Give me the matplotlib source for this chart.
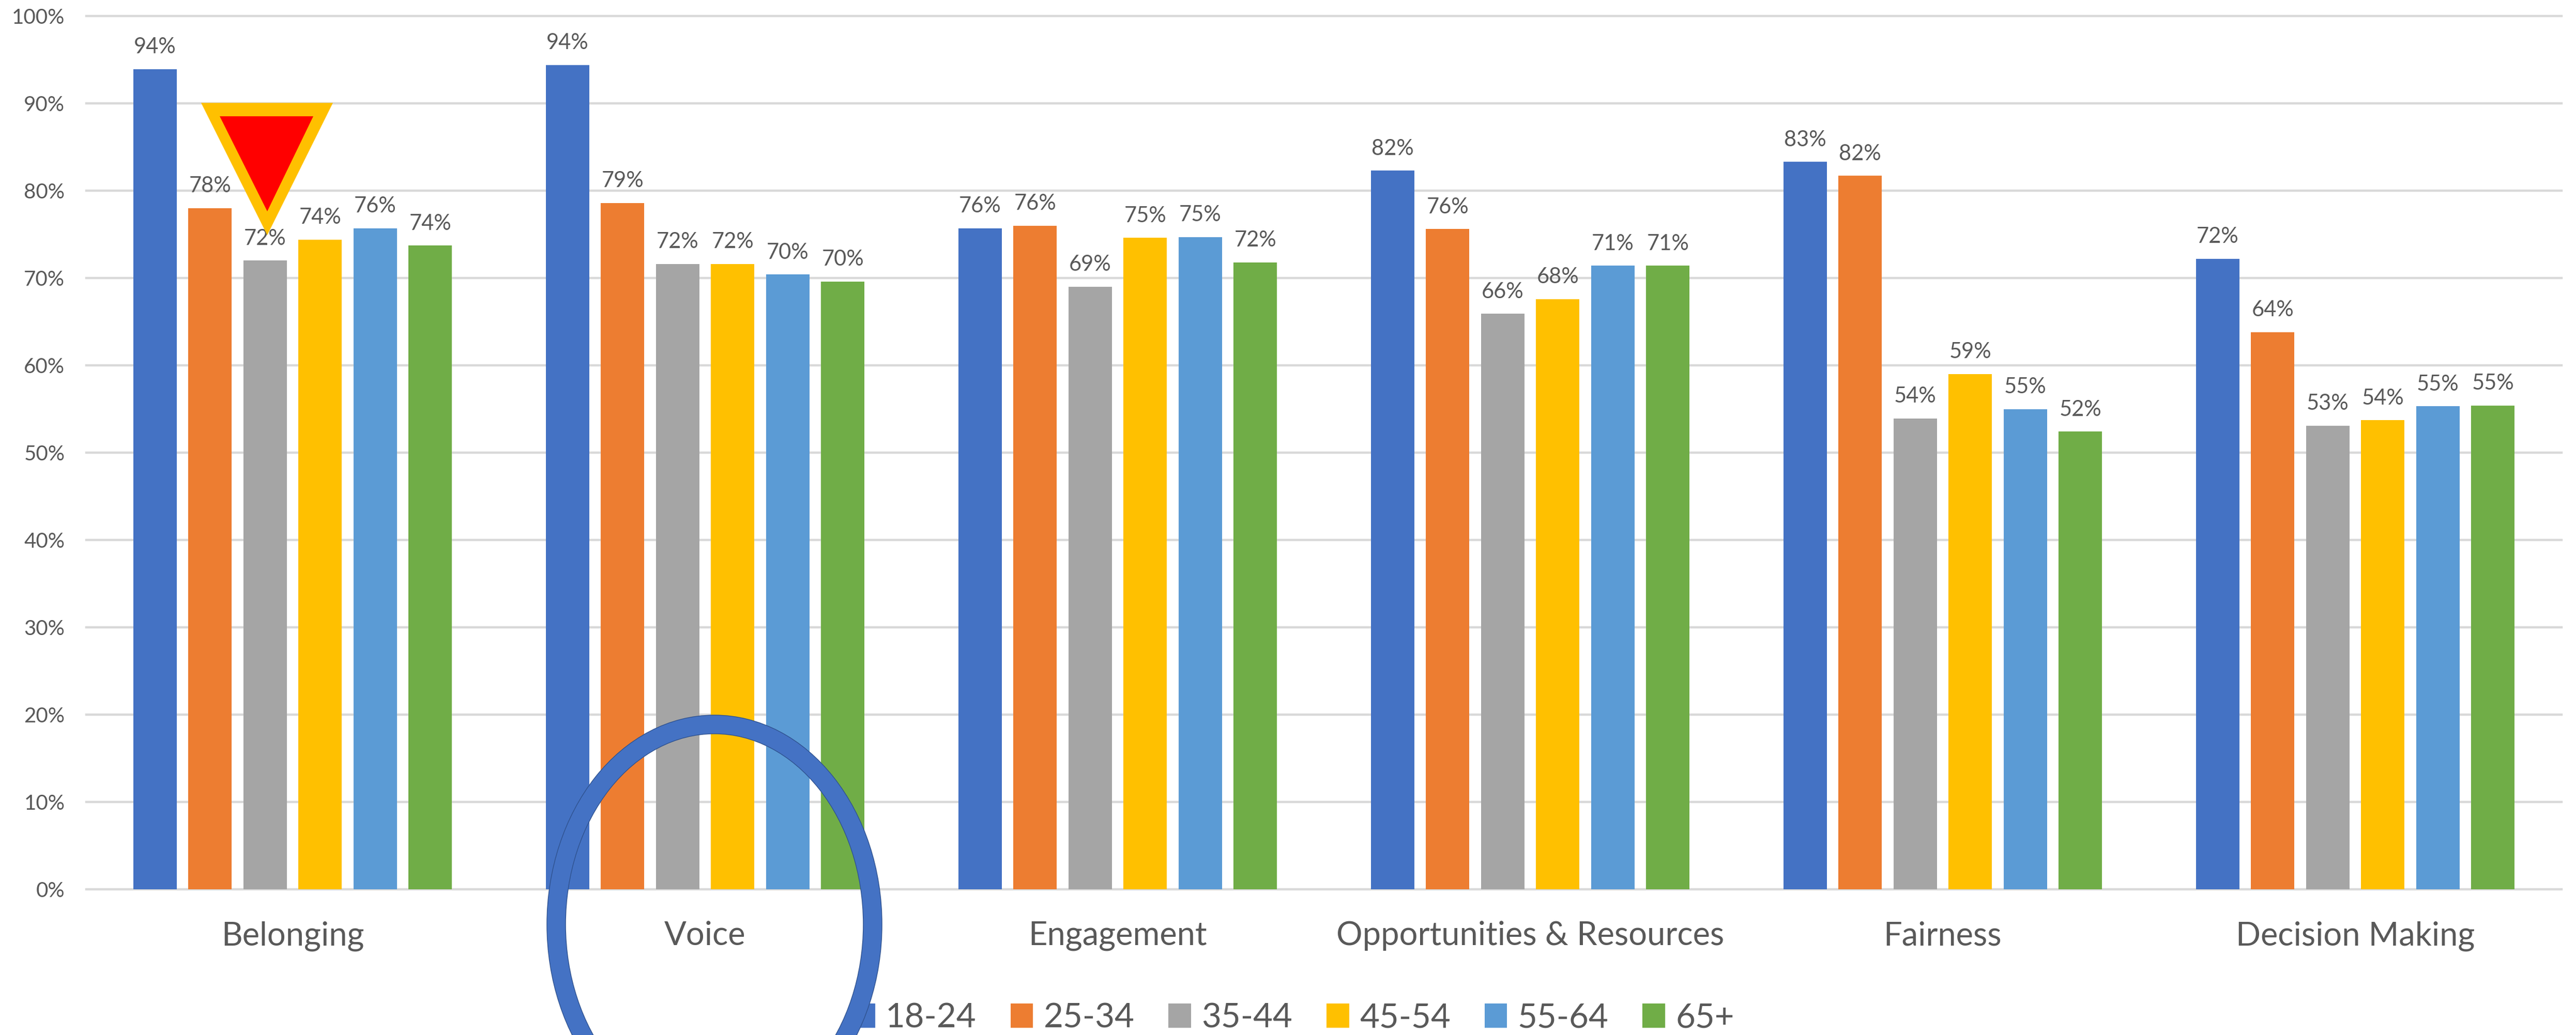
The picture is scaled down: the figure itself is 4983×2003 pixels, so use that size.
import matplotlib
matplotlib.use("Agg")
import matplotlib.pyplot as plt
from matplotlib.patches import Ellipse, Polygon
from matplotlib.ticker import FuncFormatter
import numpy as np

W, H = 4983, 2003
plt.rcParams['font.family'] = ['Lato', 'DejaVu Sans']

categories = ["Belonging", "Voice", "Engagement", "Opportunities & Resources", "Fairness", "Decision Making"]
age_18_24 = [93.9, 94.4, 75.7, 82.3, 83.3, 72.2]
age_25_34 = [78.0, 78.6, 76.0, 75.6, 81.7, 63.8]
age_35_44 = [72.0, 71.6, 69.0, 65.9, 53.9, 53.1]
age_45_54 = [74.4, 71.6, 74.6, 67.6, 59.0, 53.7]
age_55_64 = [75.7, 70.4, 74.7, 71.4, 55.0, 55.3]
age_65_up = [73.7, 69.6, 71.8, 71.4, 52.4, 55.4]
series_names = ["18-24", "25-34", "35-44", "45-54", "55-64", "65+"]
series_values = [age_18_24, age_25_34, age_35_44, age_45_54, age_55_64, age_65_up]
series_colors = ["#4472C4", "#ED7D31", "#A5A5A5", "#FFC000", "#5B9BD5", "#70AD47"]

TEXT = "#595959"
fig = plt.figure(figsize=(W / 100, H / 100), dpi=100, facecolor="white")
L, R, T, B = 167, 4955, 31, 1721
ax = fig.add_axes([L / W, 1 - B / H, (R - L) / W, (B - T) / H])

x = np.arange(len(categories))
pitch, width = 0.1335, 0.105
handles = []
for i, (name, vals, col) in enumerate(zip(series_names, series_values, series_colors)):
    bars = ax.bar(x + (i - 2.5) * pitch, vals, width, color=col, label=name, zorder=3)
    handles.append(bars)
    ax.bar_label(bars, fmt=lambda v: f"{v:.0f}%", padding=17, fontsize=30, color=TEXT, zorder=4)

ax.set_xlim(-0.5, len(categories) - 0.5)
ax.set_ylim(0, 100)
ax.set_yticks(np.arange(0, 101, 10))
ax.yaxis.set_major_formatter(FuncFormatter(lambda v, _: f"{v:.0f}%"))
ax.set_xticks(x, categories)
ax.tick_params(axis='y', length=0, labelsize=29, labelcolor=TEXT, pad=30)
ax.tick_params(axis='x', length=0, labelsize=45.5, labelcolor=TEXT, pad=44)
ax.grid(axis='y', color="#D9D9D9", lw=3.2, zorder=0)
ax.set_axisbelow(True)
for s in ax.spines.values():
    s.set_visible(False)
for gl in ax.get_ygridlines():
    gl.set_clip_on(False)

ax.legend(handles, series_names, loc='center', bbox_to_anchor=((2502 - L) / (R - L), (B - 1970) / (B - T)),
          ncols=6, frameon=False, fontsize=47, labelcolor=TEXT, handlelength=0.67, handleheight=0.73,
          handletextpad=0.31, columnspacing=1.01, borderpad=0, borderaxespad=0)

# Annotation shapes drawn on top, in pixel coordinates
ov = fig.add_axes([0, 0, 1, 1], zorder=10)
ov.set_xlim(0, W); ov.set_ylim(H, 0); ov.axis('off'); ov.patch.set_alpha(0)
ov.add_patch(Polygon([(389, 199), (644, 199), (517, 455)], closed=True, fc="#FFC000", ec="none"))
ov.add_patch(Polygon([(425, 225), (606, 225), (517, 409)], closed=True, fc="#FF0000", ec="none"))
ov.add_patch(Ellipse((1382, 1789), 612, 774, fc="none", ec="#2F528F", lw=27))
ov.add_patch(Ellipse((1382, 1789), 612, 774, fc="none", ec="#4472C4", lw=25))

fig.savefig("out.png", dpi=100, facecolor="white")
